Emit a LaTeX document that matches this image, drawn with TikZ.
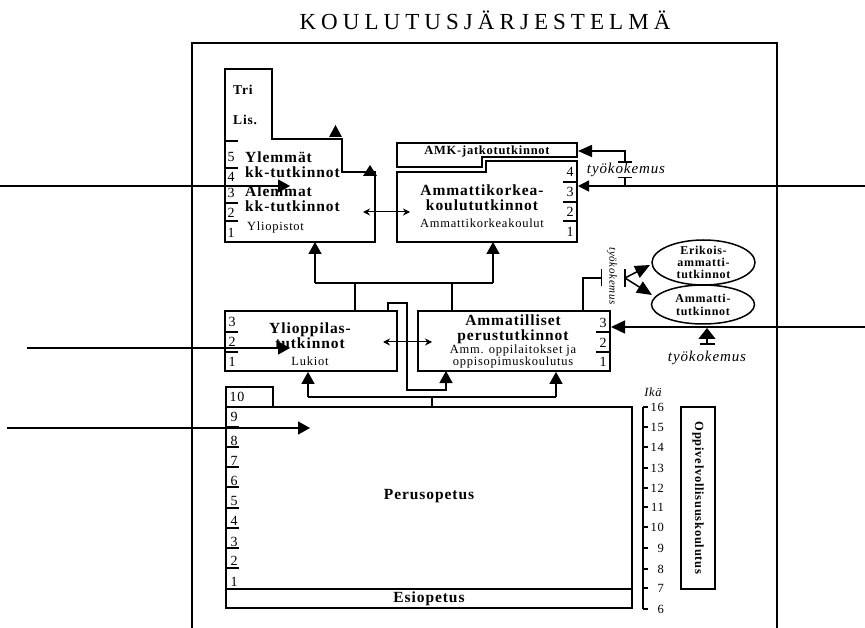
\documentclass[tikz,border=0pt]{standalone}
\usepackage{fontspec}
\setmainfont{Liberation Serif}[LetterSpace=6]
\usetikzlibrary{arrows.meta,shapes.geometric}
\begin{document}
\begin{tikzpicture}[x=1pt,y=-1pt,
  frameline/.style={line width=1.6pt},
  box/.style={line width=1.8pt},
  conn/.style={line width=1.5pt},
  sep/.style={line width=1.2pt},
  bigtip/.style={-{Triangle[length=12pt,width=13pt]}},
  dbl/.style={line width=1pt,{Stealth[length=7pt,width=7pt]}-{Stealth[length=7pt,width=7pt]}},
  ttl/.style={font=\fontsize{15.5}{15}\selectfont\bfseries,align=center,inner sep=0pt},
  sml/.style={font=\fontsize{13.5}{13}\selectfont\bfseries,align=center,inner sep=0pt},
  sub/.style={font=\fontsize{12.5}{12.5}\selectfont,align=center,inner sep=0pt},
  num/.style={font=\fontsize{14}{14}\selectfont,inner sep=0pt},
  age/.style={font=\fontsize{12.5}{12}\selectfont,inner sep=0pt},
  work/.style={font=\fontsize{15}{15}\selectfont\itshape,inner sep=0pt},
  ell/.style={ellipse,draw,line width=1.5pt,inner sep=0pt},
]
\useasboundingbox (0,0) rectangle (865,628);

% title
\node[font=\fontsize{23}{23}\selectfont\addfontfeature{LetterSpace=22},anchor=base,inner sep=0pt] (title) at (485,30) {KOULUTUSJÄRJESTELMÄ};

% frame
\coordinate (fbl) at (192,628); \coordinate (ftl) at (192,43);
\coordinate (ftr) at (777,43); \coordinate (fbr) at (777,628);
\draw[frameline] (fbl) -- (ftl) -- (ftr) -- (fbr);

% ---------- Yliopistot ----------
\draw[box] (225,69) -- (272,69) -- (272,139) -- (342,139) -- (342,172) -- (375,172) -- (375,242) -- (225,242) -- cycle;
\node[sml,anchor=west] (tri) at (233,90) {Tri};
\node[sml,anchor=west] (lis) at (233,120) {Lis.};
\fill (329,137) -- (342,137) -- (335.5,125) -- cycle;
\fill (363,176) -- (377,176) -- (370,165) -- cycle;
\foreach \n/\y in {5/157,4/177,3/193,2/213,1/233} \node[num] (yon\n) at (231,\y) {\n};
\foreach \y in {141,168,186,203,221} \draw[sep] (225,\y) -- (238,\y);
\node[ttl,align=left,anchor=west] (ylemmat) at (245,164.5) {Ylemmät\\kk-tutkinnot};
\node[ttl,align=left,anchor=west] (alemmat) at (245,199) {Alemmat\\kk-tutkinnot};
\node[sub,anchor=west] (yliop) at (247,227) {Yliopistot};
\coordinate (yoB) at (315,242);
\coordinate (yoR) at (363,212);

% ---------- AMK ----------
\draw[box] (397,143) -- (577,143) -- (577,157) -- (482,157) -- (482,167) -- (397,167) -- cycle;
\node[font=\fontsize{12.5}{12}\selectfont\bfseries,inner sep=0pt] (amkj) at (487,151.5) {AMK-jatkotutkinnot};
\draw[box] (397,172) -- (486,172) -- (486,161) -- (577,161) -- (577,242) -- (397,242) -- cycle;
\node[ttl] (amk) at (482,197.5) {Ammattikorkea-\\koulututkinnot};
\node[sub] (amkk) at (482,223) {Ammattikorkeakoulut};
\foreach \n/\y in {4/172,3/192,2/212,1/232} \node[num] (amkn\n) at (570,\y) {\n};
\foreach \y in {182,202,221} \draw[sep] (563,\y) -- (577,\y);
\coordinate (amkL) at (410,212);
\coordinate (amkB) at (493,242);
\coordinate (amk3) at (578,186);
\coordinate (amkjR) at (578,151);

\draw[dbl] (yoR) -- (amkL);

% arrows into AMK level
\coordinate (rA) at (865,186);
\draw[conn,-{Triangle[length=11pt,width=11pt]}] (rA) -- (amk3);
\coordinate (lA) at (0,186); \coordinate (alTip) at (290,186);
\draw[conn,bigtip] (lA) -- (alTip);
\coordinate (w1a) at (625,163); \coordinate (w1b) at (625,151);
\draw[conn,{Bar[width=14pt]}-{Triangle[length=14pt,width=12pt]}] (w1a) -- (w1b) -- (amkjR);
\coordinate (w1c) at (625,177); \coordinate (w1d) at (625,186);
\draw[conn,{Bar[width=14pt]}-] (w1c) -- (w1d);
\node[work] (wk1) at (626,170) {työkokemus};

% ---------- Ylioppilas ----------
\node[draw,box,minimum width=172pt,minimum height=60pt,inner sep=0pt] (ylo) at (311,341) {};
\node[ttl] (ylot) at (310,335.5) {Ylioppilas-\\tutkinnot};
\node[sub] (luk) at (310,361) {Lukiot};
\foreach \n/\y in {3/322,2/342,1/362} \node[num] (ylon\n) at (232,\y) {\n};
\foreach \y in {332,352} \draw[sep] (225,\y) -- (238,\y);

% ---------- Ammatilliset ----------
\node[draw,box,minimum width=192pt,minimum height=60pt,inner sep=0pt] (amm) at (514,341) {};
\node[ttl] (ammt) at (513,329.5) {Ammatilliset\\perustutkinnot};
\node[sub] (amms) at (513,356.5) {Amm. oppilaitokset ja\\oppisopimuskoulutus};
\foreach \n/\y in {3/323,2/343,1/362} \node[num] (ammn\n) at (603,\y) {\n};
\foreach \y in {332,352} \draw[sep] (596,\y) -- (610,\y);

\coordinate (yloR) at (383,342); \coordinate (ammL) at (432,342);
\draw[dbl] (yloR) -- (ammL);

% upward connectors to higher education
\coordinate (j1) at (315,283); \coordinate (j2) at (493,283);
\draw[conn] (j1) -- (j2);
\draw[conn,bigtip] (j1) -- (yoB);
\draw[conn,bigtip] (j2) -- (amkB);
\draw[conn] (ylo.north -| 355,0) -- (355,283);
\draw[conn] (amm.north -| 452,0) -- (452,283);

% Ylioppilas -> Ammatilliset
\coordinate (ammB2) at (446,371);
\draw[conn,bigtip] (ylo.north -| 388,0) -- (388,303) -- (407,303) -- (407,390) -- (446,390) -- (ammB2);

% left arrow into Ylioppilas
\coordinate (lB) at (27,348); \coordinate (ylTip) at (290,348);
\draw[conn,bigtip] (lB) -- (ylTip);

% right arrow into Ammatilliset
\coordinate (rB) at (865,327); \coordinate (amm3) at (611,327);
\draw[conn,-{Triangle[length=14pt,width=13pt]}] (rB) -- (amm3);
\coordinate (w3a) at (707,345); \coordinate (w3b) at (707,328);
\draw[conn,{Bar[width=15pt]}-{Triangle[length=11pt,width=17pt]}] (w3a) -- (w3b);
\node[work] (wk3) at (707,358) {työkokemus};

% ellipses
\node[ell,minimum width=103pt,minimum height=45pt] (erik) at (703.5,262.5) {};
\node[font=\fontsize{12}{12}\selectfont\bfseries,align=center,inner sep=0pt] (erikt) at (703.5,262) {Erikois-\\ammatti-\\tutkinnot};
\node[ell,minimum width=103pt,minimum height=39pt] (ammtu) at (703,304.5) {};
\node[font=\fontsize{12}{13}\selectfont\bfseries,align=center,inner sep=0pt] (ammtut) at (703,305) {Ammatti-\\tutkinnot};

\coordinate (w2a) at (583,278); \coordinate (w2b) at (602,278);
\draw[conn,-{Bar[width=17pt]}] (amm.north -| w2a) -- (w2a) -- (w2b);
\node[font=\fontsize{11}{11}\selectfont\itshape,rotate=-90,inner sep=0pt] (wk2) at (612,276) {työkokemus};
\coordinate (w2c) at (625,278);
\draw[conn] (625,269) -- (625,287);
\coordinate (erikTip) at (650,265); \coordinate (ammtTip) at (652,295);
\draw[conn,-{Triangle[length=15pt,width=13pt]}] (w2c) -- (erikTip);
\draw[conn,-{Triangle[length=15pt,width=13pt]}] (w2c) -- (ammtTip);

% ---------- Perusopetus ----------
\node[draw,box,minimum width=406pt,minimum height=182pt,inner sep=0pt] (peru) at (429,498) {};
\node[draw,box,minimum width=406pt,minimum height=19pt,inner sep=0pt] (esi) at (429,598.5) {};
\node[ttl] (perut) at (429,496) {Perusopetus};
\node[ttl] (esit) at (429,599) {Esiopetus};
\draw[box] (226,407) -- (226,387) -- (273,387) -- (273,407);
\node[num] (pn10) at (237,397) {10};
\foreach \n/\y in {9/417,8/441,7/461,6/481,5/501,4/521,3/542,2/561,1/582} \node[num] (pn\n) at (234,\y) {\n};
\foreach \y in {427,447,467,487,508,528,548,568} \draw[sep] (226,\y) -- (239,\y);

\coordinate (p0) at (432,406); \coordinate (p1) at (432,397);
\coordinate (pl) at (308,397); \coordinate (pr) at (556,397);
\draw[conn] (p0) -- (p1);
\draw[conn] (pl) -- (pr);
\draw[conn,bigtip] (pl) -- (ylo.south -| pl);
\draw[conn,bigtip] (pr) -- (amm.south -| pr);

\coordinate (lC) at (7,428); \coordinate (peTip) at (310,428);
\draw[conn,bigtip] (lC) -- (peTip);

% age scale
\draw[conn] (643,407) -- (643,609);
\foreach \a/\y in {16/407,15/427,14/447,13/468,12/488,11/507,10/527,9/548,8/569,7/588,6/609} {
  \draw[sep] (643,\y) -- (648,\y);
  \node[age,anchor=east] (ag\a) at (664,\y) {\a};
}
\node[age,font=\fontsize{12.5}{12}\selectfont\itshape] (ika) at (653,392) {Ikä};

% Oppivelvollisuuskoulutus
\node[draw,box,minimum width=34pt,minimum height=182pt,inner sep=0pt] (oppi) at (698,498) {};
\node[font=\fontsize{12.5}{12}\selectfont\bfseries,rotate=-90,inner sep=0pt] (oppit) at (698,498) {Oppivelvollisuuskoulutus};

\end{tikzpicture}
\end{document}
